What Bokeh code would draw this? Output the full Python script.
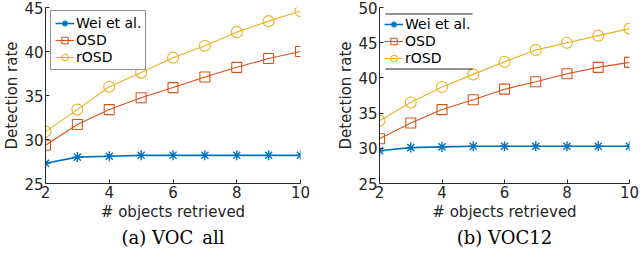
from bokeh.plotting import figure
from bokeh.layouts import row
from bokeh.models import Range1d, FixedTicker, Title, Legend, LegendItem, BoxAnnotation
from bokeh.embed import file_html
from bokeh.resources import INLINE

x_vals = [2, 3, 4, 5, 6, 7, 8, 9, 10]
series_names = ["Wei et al.", "OSD", "rOSD"]

voc_all_wei = [27.3, 28.0, 28.1, 28.2, 28.2, 28.2, 28.2, 28.2, 28.2]
voc_all_osd = [29.35, 31.7, 33.4, 34.75, 35.9, 37.1, 38.2, 39.2, 40.0]
voc_all_rosd = [30.9, 33.4, 36.0, 37.6, 39.3, 40.65, 42.2, 43.45, 44.6]

voc12_wei = [29.65, 30.1, 30.2, 30.3, 30.3, 30.3, 30.3, 30.3, 30.3]
voc12_osd = [31.35, 33.6, 35.5, 36.9, 38.4, 39.45, 40.6, 41.5, 42.2]
voc12_rosd = [33.9, 36.5, 38.7, 40.5, 42.3, 43.95, 45.0, 46.0, 47.0]

x_ticks = [2, 4, 6, 8, 10]
y_ticks_a = [25, 30, 35, 40, 45]
y_ticks_b = [25, 30, 35, 40, 45, 50]

BLUE = "#0072BD"
RED = "#D95319"
YEL = "#EDB120"
AX = "#262626"
FONT = "DejaVu Sans"
FH = 176
LEG_H = 3 * 16 + 2 * 1 + 2 * 4


def make(wei, osd, rosd, ymax, yticks, caption, fw, bl, br, boxed):
    p = figure(output_backend="svg", toolbar_location=None,
               x_range=Range1d(2, 10), y_range=Range1d(25, ymax),
               frame_height=FH, frame_width=fw, min_border_top=7, min_border_left=bl,
               min_border_right=br, min_border_bottom=5, outline_line_color=None)
    p.grid.visible = False
    r1 = p.line(x_vals, wei, color=BLUE, line_width=1.6)
    s1 = p.scatter(x_vals, wei, marker="asterisk", size=10, line_color=BLUE, line_width=1.4)
    r2 = p.line(x_vals, osd, color=RED, line_width=1.1)
    s2 = p.scatter(x_vals, osd, marker="square", size=10, line_color=RED, fill_color=None, line_width=1.1)
    r3 = p.line(x_vals, rosd, color=YEL, line_width=1.1)
    s3 = p.scatter(x_vals, rosd, marker="circle", size=11, line_color=YEL, fill_color=None, line_width=1.1)

    for ax in (p.xaxis[0], p.yaxis[0]):
        ax.axis_line_color = AX
        ax.major_tick_line_color = AX
        ax.major_tick_in = 4
        ax.major_tick_out = 0
        ax.minor_tick_line_color = None
        ax.major_label_text_font = FONT
        ax.major_label_text_font_size = "15px"
        ax.major_label_text_color = AX
        ax.axis_label_text_font = FONT
        ax.axis_label_text_font_size = "15px"
        ax.axis_label_text_font_style = "normal"
        ax.axis_label_text_color = AX
        ax.major_label_standoff = 2
    p.xaxis.axis_label_standoff = 2
    p.yaxis.axis_label_standoff = 0
    p.xaxis.ticker = FixedTicker(ticks=x_ticks)
    p.yaxis.ticker = FixedTicker(ticks=yticks)
    p.xaxis.axis_label = "# objects retrieved"
    p.yaxis.axis_label = "Detection rate"

    ly = FH - 5 - LEG_H if boxed else FH - 1 - LEG_H
    legend = Legend(items=[
        LegendItem(label=series_names[0], renderers=[r1, s1]),
        LegendItem(label=series_names[1], renderers=[r2, s2]),
        LegendItem(label=series_names[2], renderers=[r3, s3]),
    ], location=(5, ly))
    legend.label_text_font = FONT
    legend.label_text_font_size = "14px"
    legend.label_text_color = "#000000"
    legend.label_standoff = 2
    legend.label_height = 16
    legend.glyph_width = 19
    legend.glyph_height = 16
    legend.spacing = 1
    legend.padding = 4
    legend.margin = 0
    if boxed:
        legend.border_line_color = AX
        legend.background_fill_alpha = 1
    else:
        legend.border_line_color = None
        legend.background_fill_alpha = 0
    p.add_layout(legend, "center")
    if not boxed:
        for yy in (FH - 6, FH - 61):
            p.add_layout(BoxAnnotation(left=6, right=93, top=yy, bottom=yy - 1,
                                       left_units="screen", right_units="screen",
                                       top_units="screen", bottom_units="screen",
                                       fill_color=AX, fill_alpha=1, line_color=None,
                                       level="overlay"))

    t = Title(text=caption, align="center", text_font="DejaVu Serif",
              text_font_style="normal", text_font_size="18px", text_color="#000000",
              standoff=2, offset=0, text_line_height=1.5)
    p.add_layout(t, "below")
    return p


pa = make(voc_all_wei, voc_all_osd, voc_all_rosd, 45, y_ticks_a, "(a) VOC_all", 255, 32, 25, True)
pb = make(voc12_wei, voc12_osd, voc12_rosd, 50, y_ticks_b, "(b) VOC12", 250, 54, 10, False)

layout = row(pa, pb)
open("out.html", "w").write(file_html(layout, INLINE))
